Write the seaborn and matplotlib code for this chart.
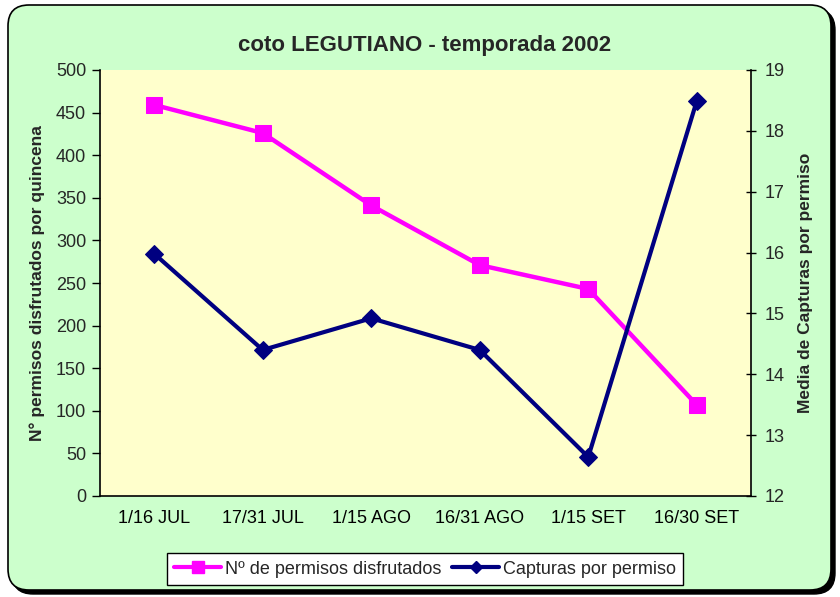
import matplotlib
matplotlib.use("Agg")
import matplotlib.pyplot as plt
import seaborn as sns
import pandas as pd
from matplotlib.patches import FancyBboxPatch
from matplotlib.lines import Line2D

categories = ["1/16 JUL", "17/31 JUL", "1/15 AGO", "16/31 AGO", "1/15 SET", "16/30 SET"]
permisos = [459, 426, 341, 271, 243, 107]
capturas = [15.98, 14.40, 14.92, 14.40, 12.64, 18.49]
left_ticks = [0, 50, 100, 150, 200, 250, 300, 350, 400, 450, 500]
right_ticks = [12, 13, 14, 15, 16, 17, 18, 19]

title = "coto LEGUTIANO - temporada 2002"
ylabel_left = "N° permisos disfrutados por quincena"
ylabel_right = "Media de Capturas por permiso"
label_perm = "Nº de permisos disfrutados"
label_capt = "Capturas por permiso"

sns.set_style("white")
plt.rcParams["font.family"] = ["Liberation Sans", "DejaVu Sans"]

df = pd.DataFrame({"quincena": categories, "permisos": permisos, "capturas": capturas})

fig = plt.figure(figsize=(8.4, 5.97), dpi=100)
fig.patch.set_facecolor("white")

# background with shadow
W, H = 840, 597
shadow = FancyBboxPatch((12 / W, 3 / H), 823 / W, 585 / H,
                        boxstyle="round,pad=0,rounding_size=0.025",
                        transform=fig.transFigure, facecolor="black", edgecolor="black",
                        zorder=-3, mutation_aspect=W / H)
bg = FancyBboxPatch((8 / W, 7 / H), 823 / W, 585 / H,
                    boxstyle="round,pad=0,rounding_size=0.025",
                    transform=fig.transFigure, facecolor="#CCFFCC", edgecolor="black",
                    linewidth=1.2, zorder=-2, mutation_aspect=W / H)
fig.patches.extend([shadow, bg])

ax = fig.add_axes([100 / W, 1 - 496 / H, 651 / W, 426 / H])
ax.set_facecolor("#FFFFCC")

sns.lineplot(data=df, x="quincena", y="permisos", ax=ax, color="#FF00FF",
             linewidth=3.2, marker="s", markersize=12, markeredgecolor="#FF00FF",
             sort=False, zorder=3)
ax2 = ax.twinx()
sns.lineplot(data=df, x="quincena", y="capturas", ax=ax2, color="#000080",
             linewidth=3.0, marker="D", markersize=9, markeredgecolor="#000080",
             sort=False, zorder=3)

ax.set_xlim(-0.5, len(categories) - 0.5)
ax.set_ylim(0, 500)
ax2.set_ylim(12, 19)
ax.set_yticks(left_ticks)
ax2.set_yticks(right_ticks)
ax.set_xticks(range(len(categories)))
ax.set_xticklabels(categories)
ax.set_xticks([i + 0.5 for i in range(len(categories))], minor=True)
ax.tick_params(axis="x", which="major", length=0, labelsize=13, pad=10, colors="black")
ax.tick_params(axis="x", which="minor", length=6, width=1, direction="out", color="black")
ax.tick_params(axis="y", length=6, width=1, direction="out", labelsize=13, color="black", pad=4)
ax2.tick_params(axis="y", length=7, width=1, direction="inout", labelsize=13, color="black", pad=6)

for spine in ax.spines.values():
    spine.set_visible(False)
for name, spine in ax2.spines.items():
    spine.set_visible(name in ("left", "right", "bottom"))
    spine.set_color("black")
    spine.set_linewidth(1.2)
ax2.spines["top"].set_visible(False)

ax.set_xlabel("")
ax.set_ylabel(ylabel_left, fontsize=12.5, fontweight="bold", labelpad=8)
ax2.set_ylabel(ylabel_right, fontsize=12.5, fontweight="bold", labelpad=10)
ax.grid(False)
ax2.grid(False)

fig.text(0.505, 1 - 45 / H, title, ha="center", va="center", fontsize=16, fontweight="bold")

handles = [Line2D([], [], color="#FF00FF", linewidth=3, marker="s", markersize=8),
           Line2D([], [], color="#000080", linewidth=3, marker="D", markersize=6)]
leg = fig.legend(handles, [label_perm, label_capt], loc="center",
                 bbox_to_anchor=(425 / W, 1 - 569 / H), ncol=2, frameon=True,
                 fancybox=False, edgecolor="black", facecolor="white", framealpha=1,
                 fontsize=13, handlelength=2.6, handletextpad=0.2, columnspacing=0.6,
                 borderpad=0.4)
leg.get_frame().set_linewidth(1.0)
if ax.get_legend():
    ax.get_legend().remove()
if ax2.get_legend():
    ax2.get_legend().remove()

fig.savefig("out.png", dpi=100, facecolor=fig.get_facecolor())
